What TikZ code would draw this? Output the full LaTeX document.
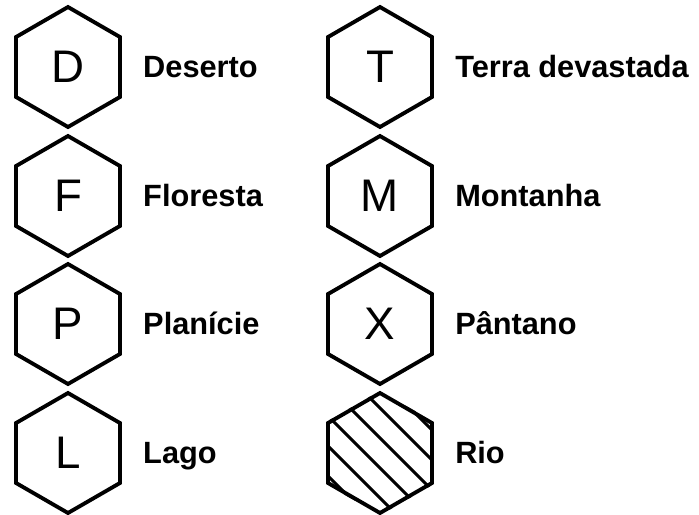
\documentclass[tikz,border=0pt]{standalone}
\usepackage{fontspec}
\setmainfont{Liberation Sans}
\usetikzlibrary{shapes.geometric, positioning, calc}

\begin{document}
\begin{tikzpicture}[x=0.02cm, y=-0.02cm,
		hexa/.style={draw, line width=2.2pt, regular polygon, regular polygon sides=6,
			regular polygon rotate=30, minimum size=2.4cm, inner sep=0pt,
			font=\fontsize{26}{26}\selectfont},
		lbl/.style={font=\bfseries\fontsize{17.5}{20}\selectfont, inner sep=0pt,
			text height=0.55cm, text depth=0.13cm, right=0.42cm of #1}]
		\useasboundingbox (0,0) rectangle (699,514);
		% left column
		\node[hexa] (hexD) at (68,67) {D};
		\node[lbl=hexD] (lblD) {Deserto};
		\node[hexa] (hexF) at (68,196) {F};
		\node[lbl=hexF] (lblF) {Floresta};
		\node[hexa] (hexP) at (68,324) {P};
		\node[lbl=hexP] (lblP) {Planície};
		\node[hexa] (hexL) at (68,453) {L};
		\node[lbl=hexL] (lblL) {Lago};
		% right column
		\node[hexa] (hexT) at (380,67) {T};
		\node[lbl=hexT] (lblT) {Terra devastada};
		\node[hexa] (hexM) at (380,196) {M};
		\node[lbl=hexM] (lblM) {Montanha};
		\node[hexa] (hexX) at (380,324) {X};
		\node[lbl=hexX] (lblX) {Pântano};
		\node[hexa] (hexR) at (380,453) {};
		\node[lbl=hexR] (lblR) {Rio};
		% hatching of the river tile
		\begin{scope}
			\clip (hexR.corner 1) -- (hexR.corner 2) -- (hexR.corner 3) -- (hexR.corner 4)
				-- (hexR.corner 5) -- (hexR.corner 6) -- cycle;
			\foreach \c in {-75,-45,...,75} {
				\draw[line width=1.7pt] ($(hexR.center)+(\c/2-100,-\c/2-100)$) -- ($(hexR.center)+(\c/2+100,-\c/2+100)$);
			}
		\end{scope}
	\end{tikzpicture}
\end{document}
